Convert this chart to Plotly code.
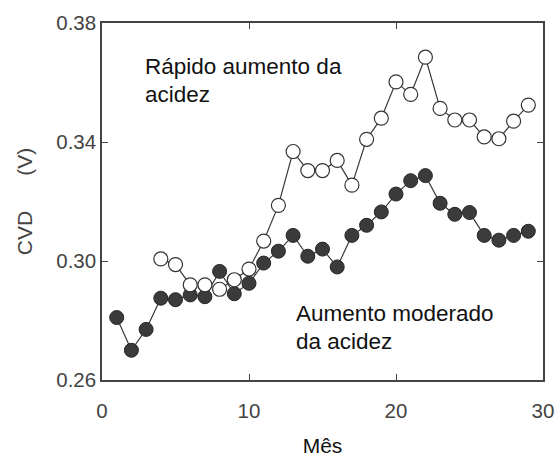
import plotly.graph_objects as go

# Data
months_moderate = list(range(1, 30))
cvd_moderate = [0.281, 0.270, 0.277, 0.2875, 0.287, 0.2886, 0.288, 0.2965, 0.289, 0.2925,
                0.2993, 0.3033, 0.3086, 0.3016, 0.304, 0.298, 0.3086, 0.312, 0.3165, 0.3225,
                0.327, 0.3287, 0.3194, 0.3157, 0.3163, 0.3086, 0.307, 0.3086, 0.310]

months_rapid = list(range(4, 30))
cvd_rapid = [0.3007, 0.2988, 0.292, 0.292, 0.2905, 0.2937, 0.2973, 0.3067, 0.3187, 0.3368,
             0.3304, 0.3304, 0.3338, 0.3255, 0.3409, 0.348, 0.3602, 0.356, 0.3685, 0.3513,
             0.3474, 0.3474, 0.3417, 0.3411, 0.347, 0.3524]

x_ticks = [0, 10, 20, 30]
y_ticks = [0.26, 0.30, 0.34, 0.38]
y_ticktext = ["0.26", "0.30", "0.34", "0.38"]

label_rapid = ["Rápido aumento da", "acidez"]
label_moderate = ["Aumento moderado", "da acidez"]
x_title = "Mês"
y_title = "CVD\u00a0\u00a0\u00a0\u00a0\u00a0\u00a0(V)"

FONT = "Liberation Sans, Arial, sans-serif"

fig = go.Figure()
fig.add_trace(go.Scatter(
    x=months_moderate, y=cvd_moderate, mode="lines+markers",
    line=dict(color="#3a3a3a", width=1.2),
    marker=dict(size=14, color="#3b3b3b", line=dict(color="#262626", width=1)),
    showlegend=False, hoverinfo="skip"))
fig.add_trace(go.Scatter(
    x=months_rapid, y=cvd_rapid, mode="lines+markers",
    line=dict(color="#3a3a3a", width=1.2),
    marker=dict(size=14, color="white", line=dict(color="#333333", width=1.2)),
    showlegend=False, hoverinfo="skip"))

ann_font = dict(family=FONT, size=22.5, color="#111111")
for txt, yv in zip(label_rapid, [0.3655, 0.3558]):
    fig.add_annotation(x=2.77, y=yv, xref="x", yref="y", text=txt, showarrow=False,
                       xanchor="left", yanchor="middle", font=ann_font)
for txt, yv in zip(label_moderate, [0.2822, 0.2728]):
    fig.add_annotation(x=13.08, y=yv, xref="x", yref="y", text=txt, showarrow=False,
                       xanchor="left", yanchor="middle", font=ann_font)

axis_common = dict(showline=True, linecolor="#444444", linewidth=1.5, mirror="ticks",
                   ticks="inside", ticklen=6, tickcolor="#444444", tickwidth=1.2,
                   showgrid=False, zeroline=False, automargin=False,
                   tickfont=dict(family=FONT, size=20.5, color="#444444"))

fig.update_xaxes(range=[0, 30], tickvals=x_ticks, ticklabelstandoff=12,
                 title=dict(text=x_title, font=dict(family=FONT, size=21, color="#111111"),
                            standoff=23),
                 **axis_common)
fig.update_yaxes(range=[0.26, 0.38], tickvals=y_ticks, ticktext=y_ticktext,
                 ticklabelstandoff=0,
                 title=dict(text=y_title, font=dict(family=FONT, size=21, color="#444444"),
                            standoff=18),
                 **axis_common)

fig.update_layout(width=558, height=457, margin=dict(l=102, r=15, t=23, b=77),
                  paper_bgcolor="white", plot_bgcolor="white")

fig.write_html("out.html")
